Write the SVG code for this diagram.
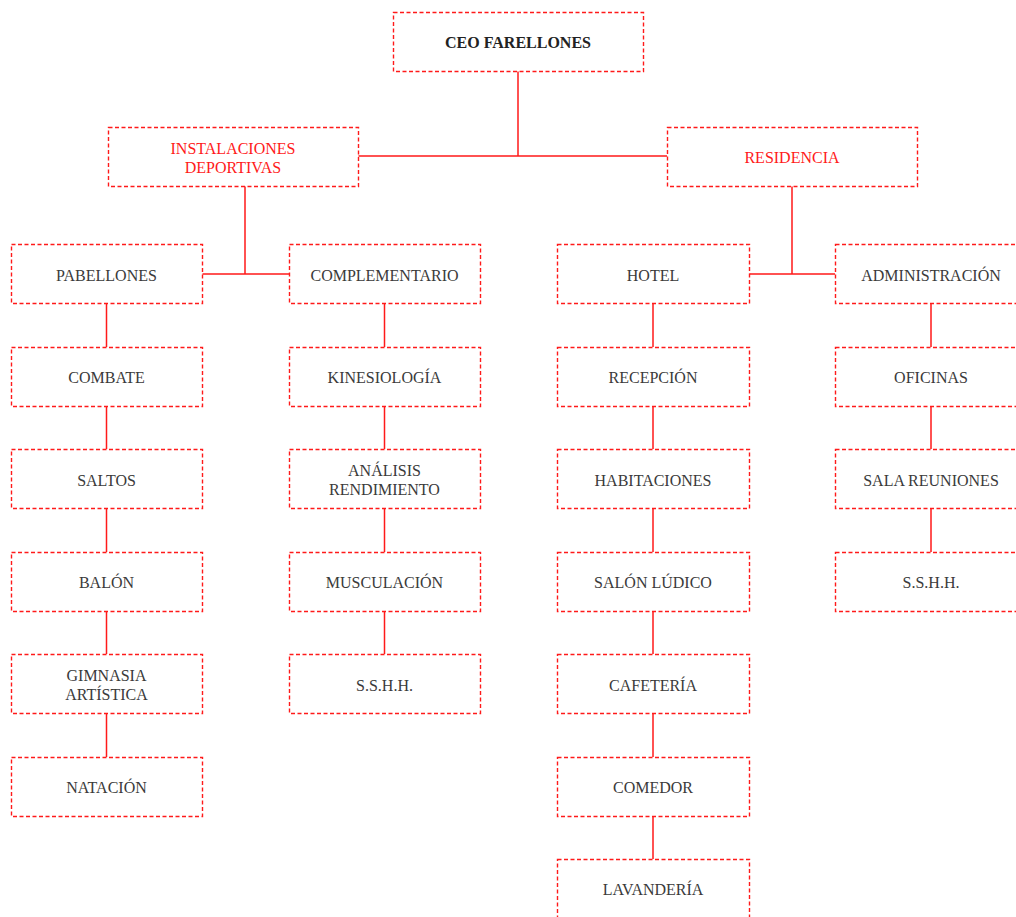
<svg xmlns="http://www.w3.org/2000/svg" width="1016" height="917" viewBox="0 0 1016 917" font-family="'Liberation Serif', 'DejaVu Serif', serif">
  <style>
    .box { fill: #ffffff; stroke: #ff1a1a; stroke-width: 1.4; stroke-dasharray: 4 2.5; }
    text { font-family: 'Liberation Serif', 'DejaVu Serif', serif; }
    .lbl { font-size: 16px; fill: #3a3a3a; text-anchor: middle; dominant-baseline: central; }
    .red { fill: #ff1a1a; }
    .bold { font-weight: bold; fill: #222222; }
    .link { stroke: #ff1a1a; stroke-width: 1.5; fill: none; }
  </style>
  <rect width="1016" height="917" fill="#ffffff"/>

  <g id="connectors">
    <path class="link" d="M518 71 V156 M358 156 H667"/>
    <path class="link" d="M245 186 V274 M202 274 H289"/>
    <path class="link" d="M792 186 V274 M749 274 H835"/>
    <!-- column 1 -->
    <path class="link" d="M106.5 303 V347 M106.5 406 V449 M106.5 509 V552 M106.5 611 V654 M106.5 713 V757"/>
    <!-- column 2 -->
    <path class="link" d="M384.5 303 V347 M384.5 406 V449 M384.5 509 V552 M384.5 611 V654"/>
    <!-- column 3 -->
    <path class="link" d="M653 303 V347 M653 406 V449 M653 509 V552 M653 611 V654 M653 713 V757 M653 816 V859"/>
    <!-- column 4 -->
    <path class="link" d="M931 303 V347 M931 406 V449 M931 509 V552"/>
  </g>

  <g id="ceo"><rect class="box" x="393.5" y="12.5" width="250" height="59"/><text class="lbl bold" x="518" y="42">CEO FARELLONES</text></g>

  <g id="instalaciones"><rect class="box" x="108.5" y="127.5" width="250" height="59"/><text class="lbl red" x="233" y="148">INSTALACIONES</text><text class="lbl red" x="233" y="167">DEPORTIVAS</text></g>
  <g id="residencia"><rect class="box" x="667.5" y="127.5" width="250" height="59"/><text class="lbl red" x="792" y="157">RESIDENCIA</text></g>

  <!-- column 1 -->
  <g id="pabellones"><rect class="box" x="11.5" y="244.5" width="191" height="59"/><text class="lbl" x="106.5" y="275">PABELLONES</text></g>
  <g id="combate"><rect class="box" x="11.5" y="347.5" width="191" height="59"/><text class="lbl" x="106.5" y="377">COMBATE</text></g>
  <g id="saltos"><rect class="box" x="11.5" y="449.5" width="191" height="59"/><text class="lbl" x="106.5" y="480">SALTOS</text></g>
  <g id="balon"><rect class="box" x="11.5" y="552.5" width="191" height="59"/><text class="lbl" x="106.5" y="582">BALÓN</text></g>
  <g id="gimnasia"><rect class="box" x="11.5" y="654.5" width="191" height="59"/><text class="lbl" x="106.5" y="675">GIMNASIA</text><text class="lbl" x="106.5" y="694">ARTÍSTICA</text></g>
  <g id="natacion"><rect class="box" x="11.5" y="757.5" width="191" height="59"/><text class="lbl" x="106.5" y="787">NATACIÓN</text></g>

  <!-- column 2 -->
  <g id="complementario"><rect class="box" x="289.5" y="244.5" width="191" height="59"/><text class="lbl" x="384.5" y="275">COMPLEMENTARIO</text></g>
  <g id="kinesiologia"><rect class="box" x="289.5" y="347.5" width="191" height="59"/><text class="lbl" x="384.5" y="377">KINESIOLOGÍA</text></g>
  <g id="analisis"><rect class="box" x="289.5" y="449.5" width="191" height="59"/><text class="lbl" x="384.5" y="470">ANÁLISIS</text><text class="lbl" x="384.5" y="489">RENDIMIENTO</text></g>
  <g id="musculacion"><rect class="box" x="289.5" y="552.5" width="191" height="59"/><text class="lbl" x="384.5" y="582">MUSCULACIÓN</text></g>
  <g id="sshh-deportivo"><rect class="box" x="289.5" y="654.5" width="191" height="59"/><text class="lbl" x="384.5" y="685">S.S.H.H.</text></g>

  <!-- column 3 -->
  <g id="hotel"><rect class="box" x="557.5" y="244.5" width="192" height="59"/><text class="lbl" x="653" y="275">HOTEL</text></g>
  <g id="recepcion"><rect class="box" x="557.5" y="347.5" width="192" height="59"/><text class="lbl" x="653" y="377">RECEPCIÓN</text></g>
  <g id="habitaciones"><rect class="box" x="557.5" y="449.5" width="192" height="59"/><text class="lbl" x="653" y="480">HABITACIONES</text></g>
  <g id="salon-ludico"><rect class="box" x="557.5" y="552.5" width="192" height="59"/><text class="lbl" x="653" y="582">SALÓN LÚDICO</text></g>
  <g id="cafeteria"><rect class="box" x="557.5" y="654.5" width="192" height="59"/><text class="lbl" x="653" y="685">CAFETERÍA</text></g>
  <g id="comedor"><rect class="box" x="557.5" y="757.5" width="192" height="59"/><text class="lbl" x="653" y="787">COMEDOR</text></g>
  <g id="lavanderia"><rect class="box" x="557.5" y="859.5" width="192" height="59"/><text class="lbl" x="653" y="889">LAVANDERÍA</text></g>

  <!-- column 4 -->
  <g id="administracion"><rect class="box" x="835.5" y="244.5" width="192" height="59"/><text class="lbl" x="931" y="275">ADMINISTRACIÓN</text></g>
  <g id="oficinas"><rect class="box" x="835.5" y="347.5" width="192" height="59"/><text class="lbl" x="931" y="377">OFICINAS</text></g>
  <g id="sala-reuniones"><rect class="box" x="835.5" y="449.5" width="192" height="59"/><text class="lbl" x="931" y="480">SALA REUNIONES</text></g>
  <g id="sshh-residencia"><rect class="box" x="835.5" y="552.5" width="192" height="59"/><text class="lbl" x="931" y="582">S.S.H.H.</text></g>
</svg>
